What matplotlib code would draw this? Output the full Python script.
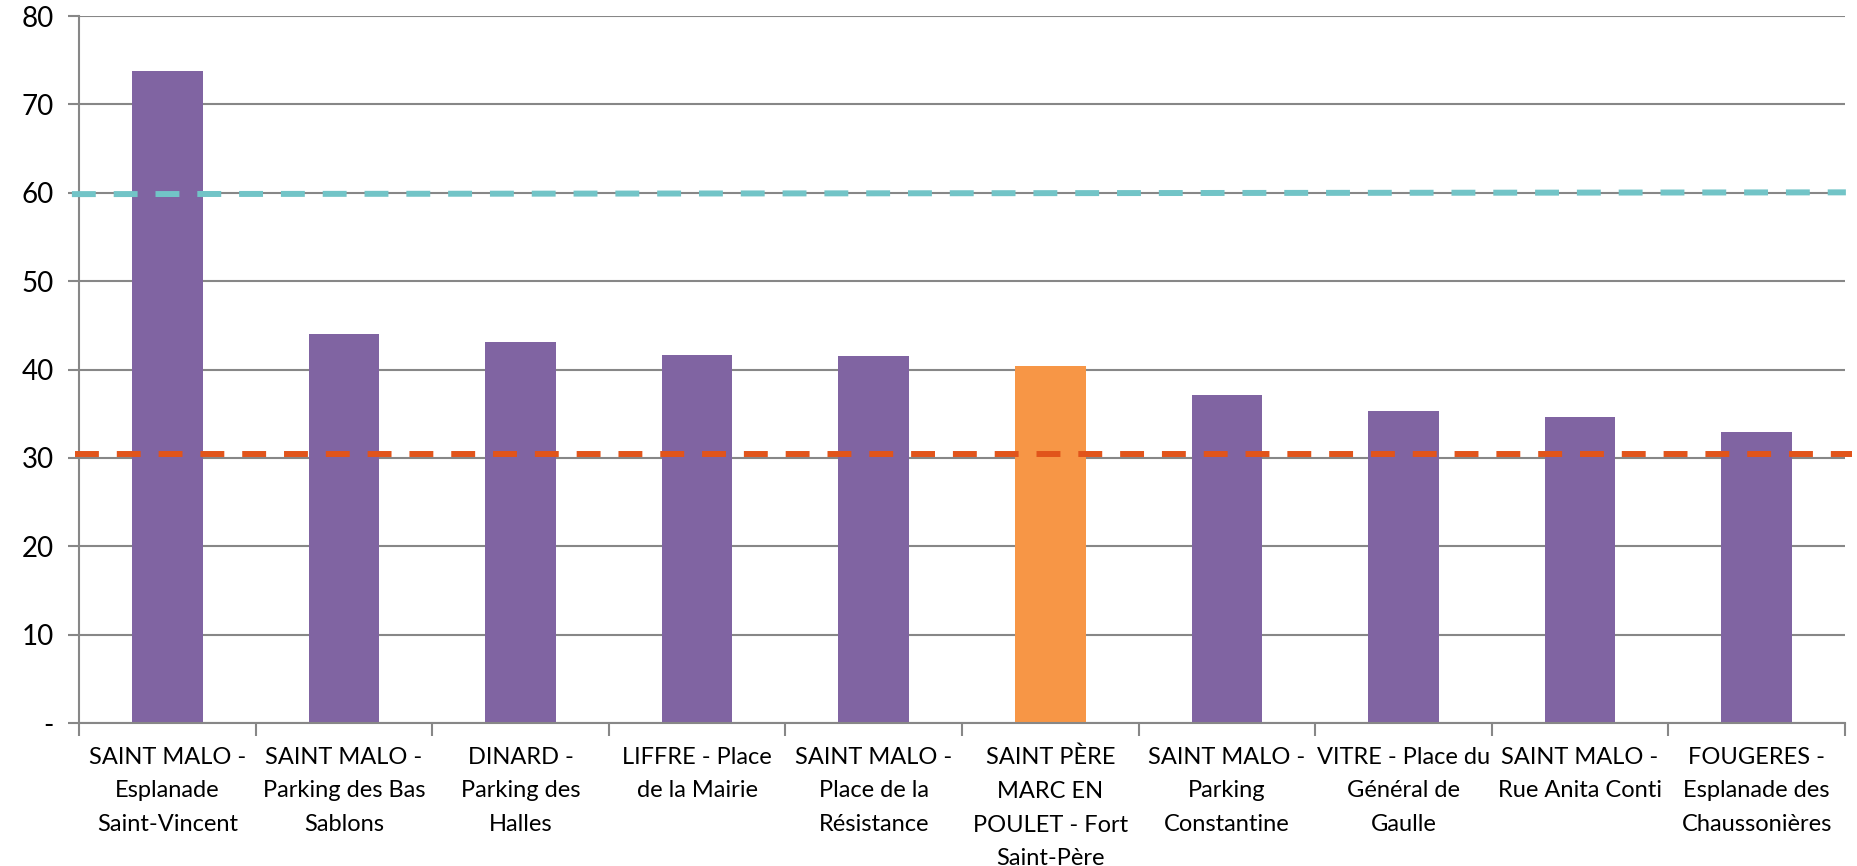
import numpy as np
import matplotlib
matplotlib.use('Agg')
import matplotlib.pyplot as plt

plt.rcParams['font.family'] = ['Lato', 'DejaVu Sans']

# data
stations = ['SAINT MALO -\nEsplanade\nSaint-Vincent',
            'SAINT MALO -\nParking des Bas\nSablons',
            'DINARD -\nParking des\nHalles',
            'LIFFRE - Place\nde la Mairie',
            'SAINT MALO -\nPlace de la\nRésistance',
            'SAINT PÈRE\nMARC EN\nPOULET - Fort\nSaint-Père',
            'SAINT MALO -\nParking\nConstantine',
            'VITRE - Place du\nGénéral de\nGaulle',
            'SAINT MALO -\nRue Anita Conti',
            'FOUGERES -\nEsplanade des\nChaussonières']
values = [73.8, 44.0, 43.1, 41.6, 41.5, 40.4, 37.1, 35.3, 34.6, 32.9]
highlight = 5
teal_line = [59.85, 60.05]   # left end, right end
orange_line = [30.4, 30.4]
yticks = [0, 10, 20, 30, 40, 50, 60, 70, 80]
ytick_labels = ['-', '10', '20', '30', '40', '50', '60', '70', '80']

purple = '#8064A2'
orange_bar = '#F79646'
grid = '#878787'

fig = plt.figure(figsize=(18.58, 8.66), dpi=100)
ax = fig.add_axes([0.0425, 0.165, 0.9505, 0.8165])

x = np.arange(len(values))
colors = [orange_bar if i == highlight else purple for i in x]
ax.bar(x, values, width=0.4, color=colors, zorder=2)

# reference lines
ax.plot([-0.54, 9.505], teal_line, color='#72C4C7', lw=4.3,
        dashes=(4, 3), zorder=3, clip_on=False)
ax.plot([-0.52, 9.54], orange_line, color='#E1541B', lw=4.3,
        dashes=(4, 3), zorder=3, clip_on=False)

ax.set_xlim(-0.5, 9.5)
ax.set_ylim(0, 80)
ax.set_yticks(yticks)
ax.set_yticklabels(ytick_labels, fontsize=20)
ax.yaxis.grid(True, color=grid, lw=1.5, zorder=1)
ax.set_axisbelow(True)

ax.set_xticks(x)
ax.set_xticklabels(stations, fontsize=17, linespacing=1.75, va='top')
ax.set_xticks(np.arange(-0.5, 10, 1), minor=True)
ax.tick_params(axis='x', which='major', length=0, pad=17)
ax.tick_params(axis='x', which='minor', length=9, width=1.5, color=grid)
ax.tick_params(axis='y', length=8, width=1.5, color=grid, pad=10)

for s in ['top', 'right']:
    ax.spines[s].set_visible(False)
for s in ['left', 'bottom']:
    ax.spines[s].set_color(grid)
    ax.spines[s].set_linewidth(1.5)

fig.savefig('out.png', dpi=100)
